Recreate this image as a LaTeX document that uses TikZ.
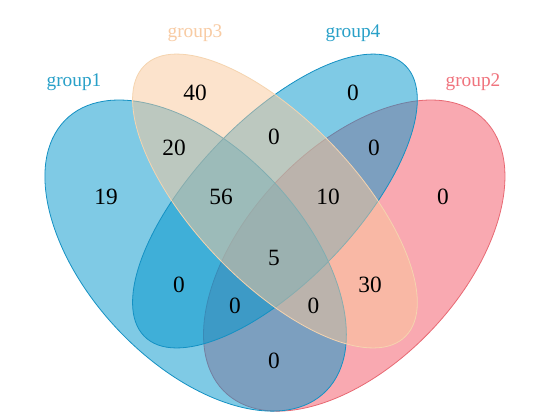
\documentclass[tikz,border=0pt]{standalone}
\usepackage{fontspec}
\setmainfont{Liberation Serif}
\definecolor{cblue}{RGB}{0,150,205}
\definecolor{cbluedark}{RGB}{20,145,195}
\definecolor{cred}{RGB}{245,85,100}
\definecolor{creddark}{RGB}{232,105,115}
\definecolor{cpeach}{RGB}{250,200,155}
\definecolor{cpeachdark}{RGB}{245,212,175}
\definecolor{lblblue}{RGB}{40,160,200}
\definecolor{lblred}{RGB}{240,115,125}
\definecolor{lblpeach}{RGB}{248,203,163}
\tikzset{
  setshape/.style={fill opacity=0.5, line width=0.6pt},
  num/.style={font=\fontsize{17.5}{20}\selectfont, text=black, inner sep=0pt},
  grouplabel/.style={font=\fontsize{14.5}{17}\selectfont, inner sep=0pt}
}
\begin{document}
\begin{tikzpicture}[x=0.75pt,y=-0.75pt]
\useasboundingbox (0,0) rectangle (542,412);
\fill[white] (0,0) rectangle (542,412);
\begin{scope}[shift={(10.6,512)}, x=1pt, y=1pt, xscale=396.5, yscale=409.2]
  % group2
  \draw[setshape, fill=cred, draw=creddark, shift={(0.65,0.47)}, rotate=45]
    (0,0) ellipse [x radius=0.35, y radius=0.2];
  % group1
  \draw[setshape, fill=cblue, draw=cbluedark, shift={(0.35,0.47)}, rotate=-45]
    (0,0) ellipse [x radius=0.35, y radius=0.2];
  % group4
  \draw[setshape, fill=cblue, draw=cbluedark, shift={(0.5,0.57)}, rotate=45]
    (0,0) ellipse [x radius=0.35, y radius=0.15];
  % group3
  \draw[setshape, fill=cpeach, draw=cpeachdark, shift={(0.5,0.57)}, rotate=-45]
    (0,0) ellipse [x radius=0.35, y radius=0.15];
\end{scope}
% labels
\node[grouplabel, text=lblblue] (l1) at (74,82) {group1};
\node[grouplabel, text=lblpeach] (l3) at (195,33.5) {group3};
\node[grouplabel, text=lblblue] (l4) at (353,33.5) {group4};
\node[grouplabel, text=lblred] (l2) at (473,82) {group2};
% numbers
\node[num] (n40) at (195,92.6) {40};
\node[num] (n4) at (353,92.6) {0};
\node[num] (n20) at (174,148) {20};
\node[num] (n34) at (274,137) {0};
\node[num] (n24) at (374,148) {0};
\node[num] (n19) at (106,197) {19};
\node[num] (n56) at (221,197) {56};
\node[num] (n10) at (328,197) {10};
\node[num] (n2) at (443,197) {0};
\node[num] (n5) at (274,257.5) {5};
\node[num] (n14) at (179,284.5) {0};
\node[num] (n30) at (370,284.5) {30};
\node[num] (n124) at (235,306) {0};
\node[num] (n123) at (313.5,306) {0};
\node[num] (n12) at (274,361) {0};
\end{tikzpicture}
\end{document}
